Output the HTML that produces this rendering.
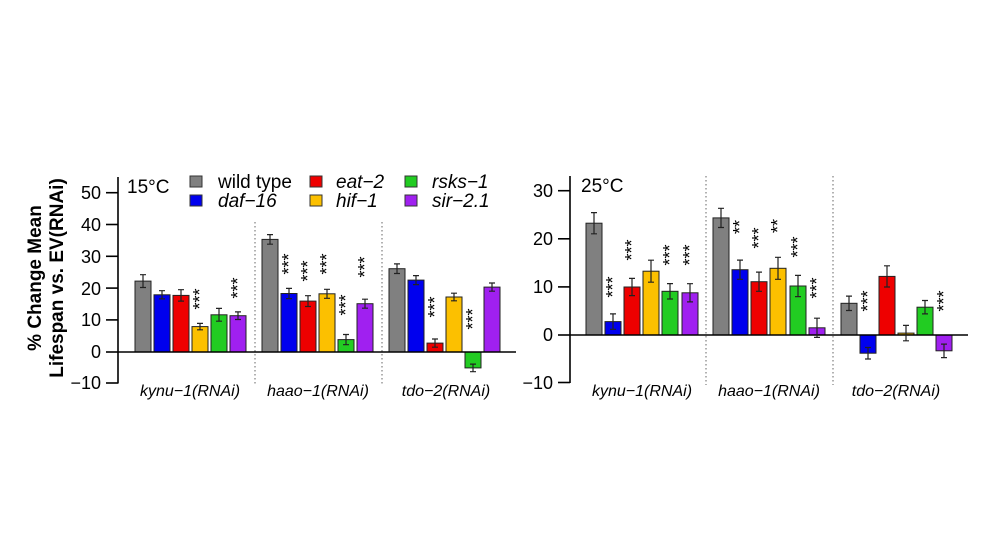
<!DOCTYPE html>
<html><head><meta charset="utf-8"><style>
html,body{margin:0;padding:0;background:#fff;}
svg{display:block;font-family:"Liberation Sans",Arial,sans-serif;}
</style></head><body>
<svg width="992" height="558" viewBox="0 0 992 558" xmlns="http://www.w3.org/2000/svg">
<rect width="992" height="558" fill="#fff"/>
<g font-weight="bold" font-size="19" text-anchor="middle" fill="#000">
<text transform="translate(41,278) rotate(-90)">% Change Mean</text>
<text transform="translate(63,278) rotate(-90)">Lifespan vs. EV(RNAi)</text>
</g>
<g stroke="#000" stroke-width="1.6" fill="none">
<line x1="118" y1="177" x2="118" y2="383.5"/>
<line x1="106" y1="192.7" x2="118" y2="192.7"/>
<line x1="106" y1="224.5" x2="118" y2="224.5"/>
<line x1="106" y1="256.3" x2="118" y2="256.3"/>
<line x1="106" y1="288.1" x2="118" y2="288.1"/>
<line x1="106" y1="319.9" x2="118" y2="319.9"/>
<line x1="106" y1="352" x2="118" y2="352"/>
<line x1="106" y1="383" x2="118" y2="383"/>
</g>
<g font-size="18" text-anchor="end" fill="#000">
<text x="101" y="199">50</text><text x="101" y="231">40</text><text x="101" y="263">30</text>
<text x="101" y="295">20</text><text x="101" y="326">10</text><text x="101" y="358">0</text><text x="101" y="389">−10</text>
</g>
<text x="127" y="193" font-size="19">15°C</text>
<g stroke="#333" stroke-width="1">
<rect x="190" y="176" width="12" height="11" fill="#808080"/>
<rect x="190" y="195" width="12" height="11" fill="#0000ee"/>
<rect x="310" y="176" width="12" height="11" fill="#ee0000"/>
<rect x="310" y="195" width="12" height="11" fill="#fcc000"/>
<rect x="405" y="176" width="12" height="11" fill="#22cc22"/>
<rect x="405" y="195" width="12" height="11" fill="#a020f0"/>
</g>
<g font-size="19" fill="#000">
<text x="218" y="188">wild type</text>
<text x="218" y="207" font-style="italic">daf−16</text>
<text x="336" y="188" font-style="italic">eat−2</text>
<text x="336" y="207" font-style="italic">hif−1</text>
<text x="432" y="188" font-style="italic">rsks−1</text>
<text x="432" y="207" font-style="italic">sir−2.1</text>
</g>
<g stroke="#666" stroke-width="1" stroke-dasharray="1.5,2.5">
<line x1="255" y1="222" x2="255" y2="385"/>
<line x1="382" y1="222" x2="382" y2="385"/>
<line x1="706" y1="176" x2="706" y2="385"/>
<line x1="833" y1="176" x2="833" y2="385"/>
</g>
<g stroke="#222" stroke-width="1">
<rect x="135" y="281.1" width="16" height="70.9" fill="#808080"/>
<rect x="154" y="294.8" width="16" height="57.2" fill="#0000ee"/>
<rect x="173" y="295.4" width="16" height="56.6" fill="#ee0000"/>
<rect x="192" y="326.6" width="16" height="25.4" fill="#fcc000"/>
<rect x="211" y="314.8" width="16" height="37.2" fill="#22cc22"/>
<rect x="230" y="315.7" width="16" height="36.3" fill="#a020f0"/>
<rect x="262" y="239.4" width="16" height="112.6" fill="#808080"/>
<rect x="281" y="293.5" width="16" height="58.5" fill="#0000ee"/>
<rect x="300" y="301.1" width="16" height="50.9" fill="#ee0000"/>
<rect x="319" y="293.8" width="16" height="58.2" fill="#fcc000"/>
<rect x="338" y="339.6" width="16" height="12.4" fill="#22cc22"/>
<rect x="357" y="303.7" width="16" height="48.3" fill="#a020f0"/>
<rect x="389" y="268.7" width="16" height="83.3" fill="#808080"/>
<rect x="408" y="280.1" width="16" height="71.9" fill="#0000ee"/>
<rect x="427" y="343.1" width="16" height="8.9" fill="#ee0000"/>
<rect x="446" y="297" width="16" height="55" fill="#fcc000"/>
<rect x="465" y="352" width="16" height="15.9" fill="#22cc22"/>
<rect x="484" y="287.1" width="16" height="64.9" fill="#a020f0"/>
</g>
<line x1="118" y1="352" x2="516" y2="352" stroke="#000" stroke-width="1.6"/>
<g stroke="#222" stroke-width="1.2" fill="none">
<path d="M143 274.7V287.5M140 274.7h6M140 287.5h6"/>
<path d="M162 290.7V298.9M159 290.7h6M159 298.9h6"/>
<path d="M181 289.7V301.1M178 289.7h6M178 301.1h6"/>
<path d="M200 323.4V329.8M197 323.4h6M197 329.8h6"/>
<path d="M219 308.4V321.2M216 308.4h6M216 321.2h6"/>
<path d="M238 311.9V319.5M235 311.9h6M235 319.5h6"/>
<path d="M270 234.6V244.2M267 234.6h6M267 244.2h6"/>
<path d="M289 288.4V298.6M286 288.4h6M286 298.6h6"/>
<path d="M308 295.7V306.5M305 295.7h6M305 306.5h6"/>
<path d="M327 289.3V298.3M324 289.3h6M324 298.3h6"/>
<path d="M346 334.5V344.7M343 334.5h6M343 344.7h6"/>
<path d="M365 299.2V308.2M362 299.2h6M362 308.2h6"/>
<path d="M397 263.9V273.5M394 263.9h6M394 273.5h6"/>
<path d="M416 275.6V284.6M413 275.6h6M413 284.6h6"/>
<path d="M435 339V347.2M432 339h6M432 347.2h6"/>
<path d="M454 293.2V300.8M451 293.2h6M451 300.8h6"/>
<path d="M473 364.1V371.7M470 364.1h6M470 371.7h6"/>
<path d="M492 283V291.2M489 283h6M489 291.2h6"/>
</g>
<g font-size="18" text-anchor="middle" fill="#000">
<text transform="translate(206,299) rotate(-90)">***</text>
<text transform="translate(244,288) rotate(-90)">***</text>
<text transform="translate(295,264) rotate(-90)">***</text>
<text transform="translate(314,271) rotate(-90)">***</text>
<text transform="translate(333,264) rotate(-90)">***</text>
<text transform="translate(352,305) rotate(-90)">***</text>
<text transform="translate(371,267) rotate(-90)">***</text>
<text transform="translate(441,307) rotate(-90)">***</text>
<text transform="translate(479,319) rotate(-90)">***</text>
</g>
<g font-size="16" font-style="italic" text-anchor="middle" fill="#000">
<text x="190" y="396">kynu−1(RNAi)</text>
<text x="318" y="396">haao−1(RNAi)</text>
<text x="446" y="396">tdo−2(RNAi)</text>
</g>

<g stroke="#000" stroke-width="1.6" fill="none">
<line x1="570" y1="176" x2="570" y2="383"/>
<line x1="558" y1="190.7" x2="570" y2="190.7"/>
<line x1="558" y1="238.8" x2="570" y2="238.8"/>
<line x1="558" y1="286.9" x2="570" y2="286.9"/>
<line x1="558" y1="335" x2="570" y2="335"/>
<line x1="558" y1="382.5" x2="570" y2="382.5"/>
</g>
<g font-size="18" text-anchor="end" fill="#000">
<text x="553" y="197">30</text><text x="553" y="245">20</text><text x="553" y="293">10</text>
<text x="553" y="341">0</text><text x="553" y="389">−10</text>
</g>
<text x="581" y="192" font-size="19">25°C</text>
<g stroke="#222" stroke-width="1">
<rect x="586" y="223.2" width="16" height="111.8" fill="#808080"/>
<rect x="605" y="321.6" width="16" height="13.4" fill="#0000ee"/>
<rect x="624" y="287" width="16" height="48" fill="#ee0000"/>
<rect x="643" y="271.2" width="16" height="63.8" fill="#fcc000"/>
<rect x="662" y="291.3" width="16" height="43.7" fill="#22cc22"/>
<rect x="682" y="292.8" width="16" height="42.2" fill="#a020f0"/>
<rect x="713" y="217.9" width="16" height="117.1" fill="#808080"/>
<rect x="732" y="269.7" width="16" height="65.3" fill="#0000ee"/>
<rect x="751" y="281.7" width="16" height="53.3" fill="#ee0000"/>
<rect x="770" y="268.3" width="16" height="66.7" fill="#fcc000"/>
<rect x="790" y="286" width="16" height="49" fill="#22cc22"/>
<rect x="809" y="327.8" width="16" height="7.2" fill="#a020f0"/>
<rect x="841" y="303.3" width="16" height="31.7" fill="#808080"/>
<rect x="860" y="335" width="16" height="18.2" fill="#0000ee"/>
<rect x="879" y="276.4" width="16" height="58.6" fill="#ee0000"/>
<rect x="898" y="333.1" width="16" height="1.9" fill="#fcc000"/>
<rect x="917" y="307.2" width="16" height="27.8" fill="#22cc22"/>
<rect x="936" y="335" width="16" height="15.8" fill="#a020f0"/>
</g>
<line x1="570" y1="335" x2="968" y2="335" stroke="#000" stroke-width="1.6"/>
<g stroke="#222" stroke-width="1.2" fill="none">
<path d="M594 212.6V233.8M591 212.6h6M591 233.8h6"/>
<path d="M613 313.9V329.3M610 313.9h6M610 329.3h6"/>
<path d="M632 278.4V295.6M629 278.4h6M629 295.6h6"/>
<path d="M651 260.2V282.2M648 260.2h6M648 282.2h6"/>
<path d="M670 283.6V299M667 283.6h6M667 299h6"/>
<path d="M690 283.7V301.9M687 283.7h6M687 301.9h6"/>
<path d="M721 208.3V227.5M718 208.3h6M718 227.5h6"/>
<path d="M740 260.1V279.3M737 260.1h6M737 279.3h6"/>
<path d="M759 272.1V291.3M756 272.1h6M756 291.3h6"/>
<path d="M778 257.3V279.3M775 257.3h6M775 279.3h6"/>
<path d="M798 275.4V296.6M795 275.4h6M795 296.6h6"/>
<path d="M817 318.2V337.4M814 318.2h6M814 337.4h6"/>
<path d="M849 296.1V310.5M846 296.1h6M846 310.5h6"/>
<path d="M868 347.5V359M865 347.5h6M865 359h6"/>
<path d="M887 265.8V287M884 265.8h6M884 287h6"/>
<path d="M906 325.4V340.8M903 325.4h6M903 340.8h6"/>
<path d="M925 300.5V313.9M922 300.5h6M922 313.9h6"/>
<path d="M944 344.1V357.6M941 344.1h6M941 357.6h6"/>
</g>
<g font-size="18" text-anchor="middle" fill="#000">
<text transform="translate(619,287) rotate(-90)">***</text>
<text transform="translate(638,250) rotate(-90)">***</text>
<text transform="translate(676,255) rotate(-90)">***</text>
<text transform="translate(696,255) rotate(-90)">***</text>
<text transform="translate(746,227) rotate(-90)">**</text>
<text transform="translate(765,238) rotate(-90)">***</text>
<text transform="translate(784,226) rotate(-90)">**</text>
<text transform="translate(804,247) rotate(-90)">***</text>
<text transform="translate(823,288) rotate(-90)">***</text>
<text transform="translate(874,301) rotate(-90)">***</text>
<text transform="translate(950,301) rotate(-90)">***</text>
</g>
<g font-size="16" font-style="italic" text-anchor="middle" fill="#000">
<text x="642" y="396">kynu−1(RNAi)</text>
<text x="769" y="396">haao−1(RNAi)</text>
<text x="896" y="396">tdo−2(RNAi)</text>
</g>
</svg>
</body></html>
